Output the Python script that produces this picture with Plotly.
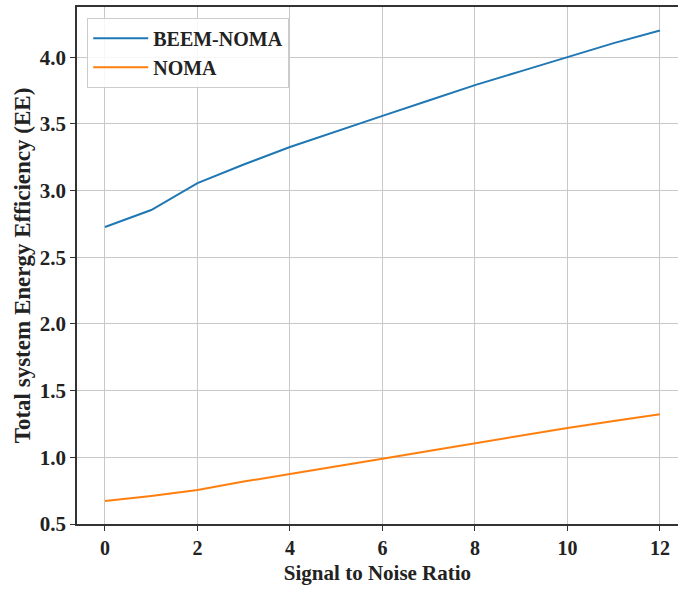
import plotly.graph_objects as go

# Signal to noise ratio sweep and energy efficiency of the two schemes
snr = [0, 1, 2, 3, 4, 5, 6, 7, 8, 9, 10, 11, 12]
beem_noma = [2.727, 2.854, 3.056, 3.195, 3.326, 3.445, 3.560, 3.675, 3.790, 3.895, 4.000, 4.105, 4.200]
noma = [0.672, 0.710, 0.755, 0.818, 0.875, 0.935, 0.990, 1.048, 1.107, 1.163, 1.220, 1.272, 1.322]

x_ticks = [0, 2, 4, 6, 8, 10, 12]
y_ticks = [0.5, 1.0, 1.5, 2.0, 2.5, 3.0, 3.5, 4.0]

serif = "Liberation Serif, Times New Roman, serif"

fig = go.Figure()
fig.add_trace(go.Scatter(x=snr, y=beem_noma, mode="lines", name="BEEM-NOMA",
                         line=dict(color="#1f77b4", width=2)))
fig.add_trace(go.Scatter(x=snr, y=noma, mode="lines", name="NOMA",
                         line=dict(color="#ff7f0e", width=2)))

axis_common = dict(
    showgrid=True, gridcolor="#c8c8c8", gridwidth=1,
    showline=True, linecolor="#333333", linewidth=1.5,
    ticks="outside", ticklen=5, tickwidth=1, tickcolor="#333333",
    zeroline=False,
)

fig.update_layout(
    width=678, height=589,
    margin=dict(l=77, r=0, t=7, b=65),
    paper_bgcolor="white", plot_bgcolor="white",
    font=dict(family=serif, color="#222222"),
    xaxis=dict(
        **axis_common,
        tickfont=dict(family=serif, size=20, color="#222222", weight="bold"),
        range=[-0.605, 12.39], tickvals=x_ticks, mirror=True,
        title=dict(text="Signal to Noise Ratio", standoff=8,
                   font=dict(family=serif, size=21, color="#222222", weight="bold")),
    ),
    yaxis=dict(
        **axis_common,
        tickfont=dict(family=serif, size=21, color="#222222", weight="bold"),
        range=[0.5, 4.376], tickvals=y_ticks, tickformat=".1f",
        title=dict(text="Total system Energy Efficiency (EE)", standoff=3,
                   font=dict(family=serif, size=23, color="#222222", weight="bold")),
    ),
    legend=dict(
        x=0.017, y=0.979, xanchor="left", yanchor="top",
        itemwidth=55,
        bgcolor="rgba(255,255,255,0.85)", bordercolor="#cccccc", borderwidth=1,
        font=dict(family=serif, size=20, color="#222222", weight="bold"),
    ),
    showlegend=True,
)

fig.write_html("out.html")
